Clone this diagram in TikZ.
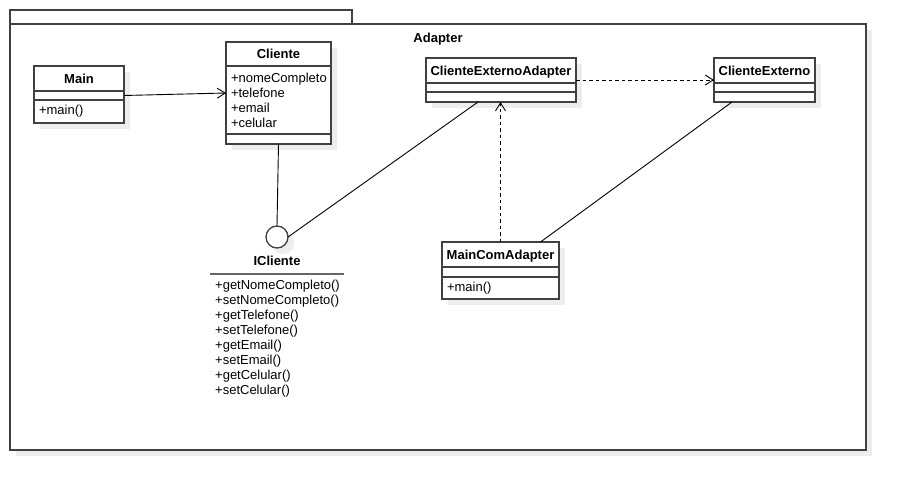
\documentclass[tikz,border=0pt]{standalone}
\usepackage{fontspec}
\setmainfont{Liberation Sans}
\usetikzlibrary{positioning}
\usetikzlibrary{shadows}
\usetikzlibrary{arrows.meta}

\begin{document}
\begin{tikzpicture}[x=1pt, y=-1pt, font=\fontsize{13}{15}\selectfont,
    >={Straight Barb[length=8pt, width=10pt]},
    cshadow/.style={drop shadow={shadow xshift=6pt, shadow yshift=-6pt, fill=black!7, opacity=1}},
    cls/.style={rectangle, draw=black!75, fill=white, line width=1.3pt, inner sep=0pt, outer sep=0pt, minimum width=#1, cshadow},
    clsname/.style={cls=#1, minimum height=25pt, text height=10.5pt, text depth=1.5pt, font=\fontsize{13}{15}\selectfont\bfseries},
    clstext/.style={cls=#1, text width=#1-10pt, inner xsep=5pt, align=left},
    link/.style={line width=0.9pt},
    dep/.style={line width=0.9pt, dash pattern=on 3.5pt off 3pt}]
    \useasboundingbox (0,0) rectangle (906,490);
    \draw[line width=1.3pt, draw=black!75, fill=white, cshadow] (10,24) rectangle (866,450);
    \draw[line width=1.3pt, draw=black!75, fill=white] (10,10) rectangle (352,24);
    \node[anchor=base, font=\fontsize{13}{15}\selectfont\bfseries] (pkgtitle) at (438,42) {Adapter};

    \node[clsname=90pt, anchor=north west] (mainh) at (34,66) {Main};
    \node[cls=90pt, minimum height=9pt, below=0pt of mainh] (maina) {};
    \node[clstext=90pt, minimum height=23pt, below=0pt of maina] (mainm) {+main()};

    \node[clsname=105pt, minimum height=24pt, anchor=north west] (clih) at (226,42) {Cliente};
    \node[clstext=105pt, minimum height=68pt, below=0pt of clih] (clia) {+nomeCompleto\\+telefone\\+email\\+celular};
    \node[cls=105pt, minimum height=10pt, below=0pt of clia] (clim) {};

    \node[clsname=150pt, anchor=north west] (ceah) at (426,58) {ClienteExternoAdapter};
    \node[cls=150pt, minimum height=9pt, below=0pt of ceah] (ceaa) {};
    \node[cls=150pt, minimum height=10pt, below=0pt of ceaa] (ceam) {};

    \node[clsname=101pt, anchor=north west] (ceh) at (714,58) {ClienteExterno};
    \node[cls=101pt, minimum height=9pt, below=0pt of ceh] (cea) {};
    \node[cls=101pt, minimum height=10pt, below=0pt of cea] (cem) {};

    \node[clsname=117pt, anchor=north west] (mcah) at (442,242) {MainComAdapter};
    \node[cls=117pt, minimum height=10pt, below=0pt of mcah] (mcaa) {};
    \node[clstext=117pt, minimum height=22pt, below=0pt of mcaa] (mcam) {+main()};

    \node[circle, draw=black!75, fill=white, line width=1.3pt, minimum size=22pt, inner sep=0pt, outer sep=0pt, cshadow] (icli) at (277,237) {};
    \node[font=\fontsize{13}{15}\selectfont\bfseries] (iclin) at (277,261) {ICliente};
    \node[anchor=north west, text width=124pt, inner xsep=5pt, inner ysep=5.5pt, align=left] (iclim) at (210,274) {+getNomeCompleto()\\+setNomeCompleto()\\+getTelefone()\\+setTelefone()\\+getEmail()\\+setEmail()\\+getCelular()\\+setCelular()};
    \draw[line width=1.5pt, black!60] (iclim.north west) -- (iclim.north east);

    \draw[link, ->] (maina.east) -- ([yshift=7pt]clia.west);
    \draw[link] (clim.south) -- (icli.north);
    \draw[link] (icli.east) -- ([xshift=-23pt]ceam.south);
    \draw[dep, ->] ([yshift=3pt]ceah.south east) -- ([yshift=3pt]ceh.south west);
    \draw[dep, ->] (mcah.north) -- (mcah.north |- ceam.south);
    \draw[link] ([xshift=40pt]mcah.north) -- ([xshift=-32.5pt]cem.south);
\end{tikzpicture}
\end{document}
